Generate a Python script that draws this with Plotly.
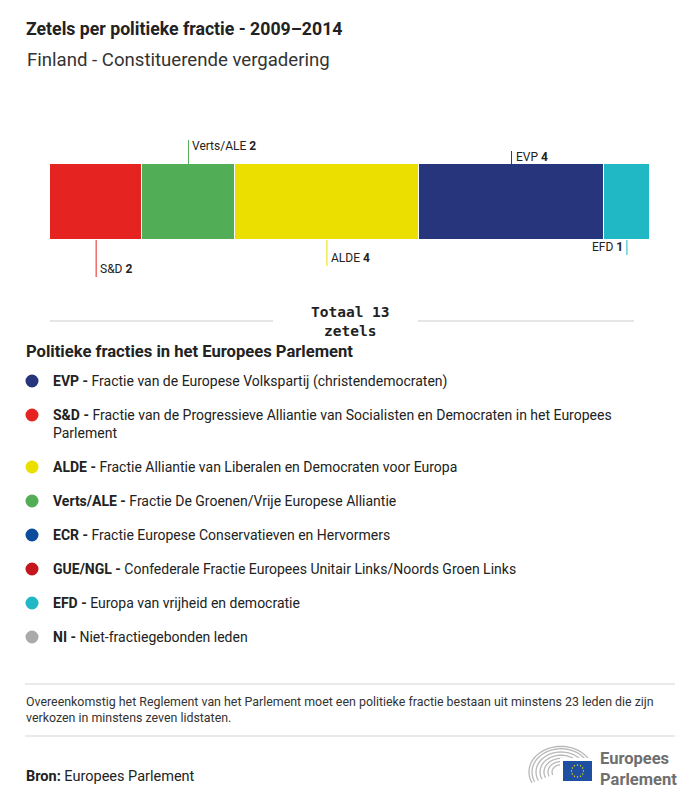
import math
import plotly.graph_objects as go

# ---------------- data ----------------
groups = ["S&D", "Verts/ALE", "ALDE", "EVP", "EFD"]
seats = [2, 2, 4, 4, 1]
group_colors = ["#e52421", "#52ae56", "#ebdf00", "#27357c", "#21b8c6"]

legend_codes = ["EVP", "S&D", "ALDE", "Verts/ALE", "ECR", "GUE/NGL", "EFD", "NI"]
legend_names = [
    "Fractie van de Europese Volkspartij (christendemocraten)",
    "Fractie van de Progressieve Alliantie van Socialisten en Democraten in het Europees<br>Parlement",
    "Fractie Alliantie van Liberalen en Democraten voor Europa",
    "Fractie De Groenen/Vrije Europese Alliantie",
    "Fractie Europese Conservatieven en Hervormers",
    "Confederale Fractie Europees Unitair Links/Noords Groen Links",
    "Europa van vrijheid en democratie",
    "Niet-fractiegebonden leden",
]
legend_colors = ["#27357c", "#e52421", "#ebdf00", "#52ae56", "#0b4c9d", "#c4161c", "#21b8c6", "#aaaaaa"]

title = "Zetels per politieke fractie - 2009–2014"
subtitle = "Finland - Constituerende vergadering"
total_label = "Totaal {}<br>zetels".format(sum(seats))
legend_title = "Politieke fracties in het Europees Parlement"
note = ("Overeenkomstig het Reglement van het Parlement moet een politieke fractie bestaan uit minstens 23 leden die zijn"
        "<br>verkozen in minstens zeven lidstaten.")
source = "<b>Bron:</b> Europees Parlement"

# ---------------- layout helpers ----------------
W, H = 700, 801
OFF = 8  # page body margin
FONT = "Roboto"


def px(x):
    return (x - OFF) / W


def py(y):
    return 1 - (y - OFF) / H


# label styles: (side, line start px, line end px, label y px)
label_style = {
    "S&D": ("below", 240, 277, 269),
    "Verts/ALE": ("above", 140, 164, 146),
    "ALDE": ("below", 240, 266, 258),
    "EVP": ("above", 151, 164, 157),
    "EFD": ("below_left", 240, 255, 247),
}

fig = go.Figure()
for g, s, c in zip(groups, seats, group_colors):
    fig.add_trace(go.Bar(
        x=[s], y=[0], orientation="h", name=g, width=1,
        marker=dict(color=c, line=dict(color="white", width=1)),
        hoverinfo="skip", showlegend=False,
    ))

shapes = []
annotations = []

cum = 0
for g, s, c in zip(groups, seats, group_colors):
    mid = cum + s / 2
    cum += s
    side, y0, y1, ly = label_style[g]
    shapes.append(dict(type="line", xref="x", yref="paper", x0=mid, x1=mid,
                       y0=py(y0), y1=py(y1), line=dict(color=c, width=1)))
    txt = "{} <b>{}</b>".format(g, s)
    if side == "below_left":
        annotations.append(dict(xref="x", yref="paper", x=mid, y=py(ly), text=txt,
                                showarrow=False, xanchor="right", yanchor="middle", xshift=-2,
                                font=dict(family=FONT, size=12, color="#222")))
    else:
        annotations.append(dict(xref="x", yref="paper", x=mid, y=py(ly), text=txt,
                                showarrow=False, xanchor="left", yanchor="middle", xshift=2,
                                font=dict(family=FONT, size=12, color="#222")))

# titles
annotations.append(dict(xref="paper", yref="paper", x=px(24), y=py(29), text="<b>" + title + "</b>",
                        showarrow=False, xanchor="left", yanchor="middle",
                        font=dict(family=FONT, size=17.7, color="#222")))
annotations.append(dict(xref="paper", yref="paper", x=px(25), y=py(60), text=subtitle,
                        showarrow=False, xanchor="left", yanchor="middle",
                        font=dict(family=FONT, size=18.6, color="#333")))

# total
annotations.append(dict(xref="paper", yref="paper", x=px(350), y=py(321), text="<b>" + total_label + "</b>",
                        showarrow=False, xanchor="center", yanchor="middle",
                        font=dict(family="DejaVu Sans Mono", size=14.5, color="#222")))
shapes.append(dict(type="line", xref="paper", yref="paper", x0=px(50), x1=px(273), y0=py(321), y1=py(321),
                   line=dict(color="#cccccc", width=1)))
shapes.append(dict(type="line", xref="paper", yref="paper", x0=px(418), x1=px(634), y0=py(321), y1=py(321),
                   line=dict(color="#cccccc", width=1)))

# legend heading
annotations.append(dict(xref="paper", yref="paper", x=px(24), y=py(352), text="<b>" + legend_title + "</b>",
                        showarrow=False, xanchor="left", yanchor="middle",
                        font=dict(family=FONT, size=16.6, color="#222")))

legend_y = [381, 415, 467, 501, 535, 569, 603, 637]
for code, name, col, yy in zip(legend_codes, legend_names, legend_colors, legend_y):
    shapes.append(dict(type="circle", xref="paper", yref="paper",
                       x0=px(25.5), x1=px(38.5), y0=py(yy - 6.5), y1=py(yy + 6.5),
                       fillcolor=col, line=dict(width=0)))
    ty = yy if "<br>" not in name else yy + 9
    annotations.append(dict(xref="paper", yref="paper", x=px(51), y=py(ty),
                            text="<b>{} -</b> {}".format(code, name),
                            showarrow=False, xanchor="left", yanchor="middle", align="left",
                            font=dict(family=FONT, size=14, color="#222")))

# footer
shapes.append(dict(type="line", xref="paper", yref="paper", x0=px(25), x1=px(675), y0=py(684), y1=py(684),
                   line=dict(color="#d5d5d5", width=1)))
shapes.append(dict(type="line", xref="paper", yref="paper", x0=px(25), x1=px(675), y0=py(736), y1=py(736),
                   line=dict(color="#d5d5d5", width=1)))
annotations.append(dict(xref="paper", yref="paper", x=px(24), y=py(709), text=note,
                        showarrow=False, xanchor="left", yanchor="middle", align="left",
                        font=dict(family=FONT, size=12.4, color="#333")))
annotations.append(dict(xref="paper", yref="paper", x=px(24), y=py(776), text=source,
                        showarrow=False, xanchor="left", yanchor="middle",
                        font=dict(family=FONT, size=14.5, color="#222")))

# logo: hemicycle arcs, flag, text
cx, cy = 561, 772
for r in [9, 13, 17, 21, 25, 29, 32]:
    pts = []
    for i in range(0, 41):
        a = math.radians(-25 + i / 40.0 * 230)
        pts.append((cx + r * math.cos(a), cy - r * 0.8 * math.sin(a)))
    path = "M " + " L ".join("{:.4f},{:.4f}".format(px(x), py(y)) for x, y in pts)
    shapes.append(dict(type="path", xref="paper", yref="paper", path=path,
                       line=dict(color="#b8b8b8", width=1.3)))
shapes.append(dict(type="rect", xref="paper", yref="paper", x0=px(560), x1=px(595), y0=py(758), y1=py(784),
                   fillcolor="white", line=dict(width=0)))
shapes.append(dict(type="rect", xref="paper", yref="paper", x0=px(563), x1=px(592), y0=py(761), y1=py(781),
                   fillcolor="#1f4fa0", line=dict(width=0)))
for k in range(12):
    a = 2 * math.pi * k / 12
    sx, sy = 577.5 + 6 * math.cos(a), 771 + 6 * math.sin(a)
    shapes.append(dict(type="circle", xref="paper", yref="paper",
                       x0=px(sx - 0.7), x1=px(sx + 0.7), y0=py(sy - 0.7), y1=py(sy + 0.7),
                       fillcolor="#ffdd00", line=dict(width=0)))
annotations.append(dict(xref="paper", yref="paper", x=px(598), y=py(769), text="<b>Europees<br>Parlement</b>",
                        showarrow=False, xanchor="left", yanchor="middle", align="left",
                        font=dict(family=FONT, size=16.5, color="#6f6f6f")))

fig.update_layout(
    width=W, height=H,
    margin=dict(l=0, r=0, t=0, b=0),
    paper_bgcolor="white", plot_bgcolor="white",
    barmode="stack", bargap=0,
    xaxis=dict(domain=[px(50), px(650)], range=[0, sum(seats)], visible=False, fixedrange=True),
    yaxis=dict(domain=[py(240), py(164)], range=[-0.5, 0.5], visible=False, fixedrange=True),
    shapes=shapes, annotations=annotations,
    showlegend=False,
)

fig.write_html("out.html")
